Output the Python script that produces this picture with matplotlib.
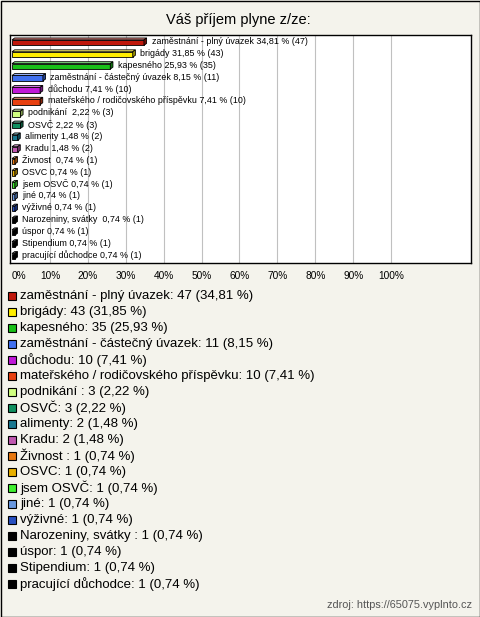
import matplotlib
matplotlib.use("Agg")
import matplotlib.pyplot as plt
from matplotlib.patches import Rectangle, Polygon

# data
kategorie = ["zaměstnání - plný úvazek", "brigády", "kapesného",
             "zaměstnání - částečný úvazek", "důchodu",
             "mateřského / rodičovského příspěvku", "podnikání ", "OSVČ",
             "alimenty", "Kradu", "Živnost ", "OSVC", "jsem OSVČ", "jiné",
             "výživné", "Narozeniny, svátky ", "úspor", "Stipendium",
             "pracující důchodce"]
pocty = [47, 43, 35, 11, 10, 10, 3, 3, 2, 2, 1, 1, 1, 1, 1, 1, 1, 1, 1]
procenta = [34.81, 31.85, 25.93, 8.15, 7.41, 7.41, 2.22, 2.22, 1.48, 1.48,
            0.74, 0.74, 0.74, 0.74, 0.74, 0.74, 0.74, 0.74, 0.74]
tiky = [0, 10, 20, 30, 40, 50, 60, 70, 80, 90, 100]

barvy = ["#c0180c", "#ffee00", "#18c018", "#4070f0", "#c018d8", "#e84010",
         "#d0ff80", "#109060", "#1a7890", "#c058b0", "#e87810", "#e8b000",
         "#40f030", "#6898e0", "#2850c0", "#000000", "#000000", "#000000",
         "#000000"]

def cz(v):
    return ("%.2f" % v).replace(".", ",")

def stin(c, f):
    r, g, b = matplotlib.colors.to_rgb(c)
    return (r * f, g * f, b * f)

def svetlo(c, f):
    r, g, b = matplotlib.colors.to_rgb(c)
    return (r + (1 - r) * f, g + (1 - g) * f, b + (1 - b) * f)

plt.rcParams['font.family'] = ['Liberation Sans', 'DejaVu Sans']

W, H = 480, 617
fig = plt.figure(figsize=(W / 100, H / 100), dpi=100)
fig.patch.set_facecolor("#f4f3ec")

# whole-figure pixel axes for the title, legend and frame
bg = fig.add_axes([0, 0, 1, 1])
bg.set_xlim(0, W)
bg.set_ylim(H, 0)
bg.axis("off")
bg.add_patch(Rectangle((0.5, 0.5), W - 1, H - 1, fill=False, ec="black", lw=1))
bg.text(238, 20, "Váš příjem plyne z/ze:", ha="center", va="center", fontsize=10.5)

ax = fig.add_axes([10 / W, 1 - 263 / H, 461 / W, 228 / H])
ax.set_facecolor("white")
n = len(kategorie)
ax.set_xlim(-0.53, 121.1)
ax.set_ylim(n - 0.35, -0.56)
for t in tiky[1:]:
    ax.axvline(t, color="#c0c0c0", lw=0.8, zorder=0)
ax.set_xticks(tiky)
ax.set_xticklabels([f"{t}%" for t in tiky], fontsize=7.3)
ax.get_xticklabels()[0].set_horizontalalignment("left")
ax.tick_params(axis="x", length=0, pad=6)
ax.set_yticks([])
for s in ax.spines.values():
    s.set_linewidth(1)

h = 0.46
dx = 0.7
dy = 0.16
for i, (v, c) in enumerate(zip(procenta, barvy)):
    top = i - h / 2 + dy / 2
    ax.add_patch(Rectangle((0, top), v, h, fc=c, ec="black", lw=0.6, zorder=3))
    ax.add_patch(Polygon([(0, top), (v, top), (v + dx, top - dy), (dx, top - dy)],
                         closed=True, fc=svetlo(c, 0.45), ec="black", lw=0.6, zorder=3))
    ax.add_patch(Polygon([(v, top), (v + dx, top - dy), (v + dx, top + h - dy), (v, top + h)],
                         closed=True, fc=stin(c, 0.6), ec="black", lw=0.6, zorder=3))
    ax.text(v + dx + 1.3, i, f"{kategorie[i]} {cz(v)} % ({pocty[i]})",
            fontsize=6.4, va="center", ha="left", zorder=4)

# legend rows
for i, (k, c) in enumerate(zip(kategorie, barvy)):
    y = 296 + i * 16
    bg.add_patch(Rectangle((8, y - 4), 8, 8, fc=c, ec="black", lw=0.8))
    bg.text(20, y, f"{k}: {pocty[i]} ({cz(procenta[i])} %)", fontsize=9.5,
            va="center", ha="left")

bg.text(472, 605, "zdroj: https://65075.vyplnto.cz", ha="right", va="center",
        fontsize=7.8, color="#555555")

fig.savefig("out.png", dpi=100, facecolor=fig.get_facecolor())
